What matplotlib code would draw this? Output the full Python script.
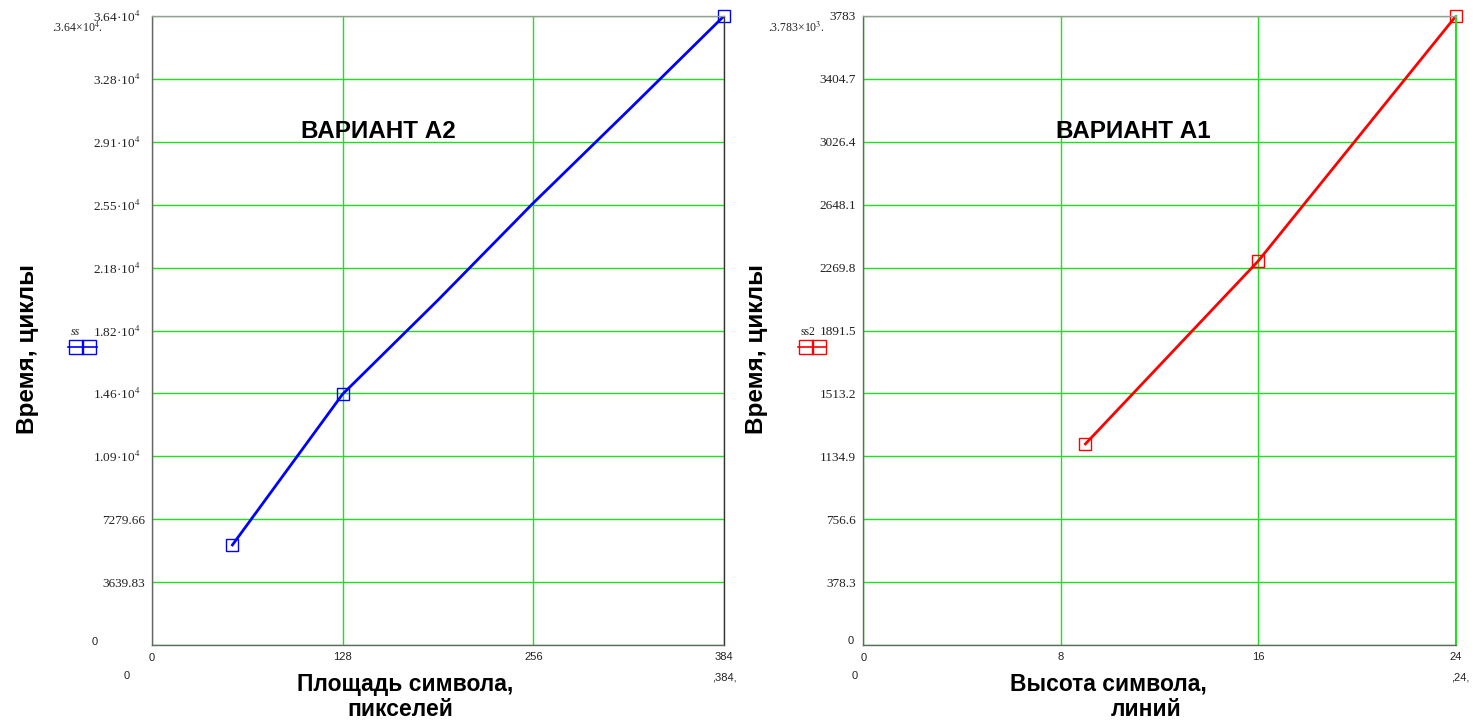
import matplotlib.pyplot as plt
from matplotlib.lines import Line2D

plt.rcParams['font.family'] = ['Liberation Sans', 'DejaVu Sans']
plt.rcParams['mathtext.fontset'] = 'stix'

# Variant A2: symbol area (pixels) -> time (cycles)
area_x = [54, 128, 192, 256, 320, 384]
area_time = [5790, 14520, 19960, 25580, 30960, 36398]
area_mark_x = [54, 128, 384]
area_mark_time = [5790, 14520, 36398]
area_ymax = 36398.3
area_xticks = [0, 128, 256, 384]
area_ylabels = ["", "3639.83", "7279.66", "1.09·10$^{4}$  ", "1.46·10$^{4}$  ",
                "1.82·10$^{4}$  ", "2.18·10$^{4}$  ", "2.55·10$^{4}$  ",
                "2.91·10$^{4}$  ", "3.28·10$^{4}$  ", "3.64·10$^{4}$  "]

# Variant A1: symbol height (lines) -> time (cycles)
height_x = [9, 16, 24]
height_time = [1209, 2310, 3783]
height_ymax = 3783
height_xticks = [0, 8, 16, 24]
height_ylabels = ["", "378.3", "756.6", "1134.9", "1513.2", "1891.5",
                  "2269.8", "2648.1", "3026.4", "3404.7", "3783"]

fig = plt.figure(figsize=(14.81, 7.24), dpi=100)
W, H = 1481, 724
GREEN = '#1ee01e'


def px(x, y):
    return x / W, 1 - y / H


def setup(ax, xmax, ymax, xticks, ylabels):
    ax.set_xlim(0, xmax)
    ax.set_ylim(0, ymax)
    ax.set_xticks(xticks)
    ax.set_xticklabels(["" if t == 0 else str(t) for t in xticks])
    ax.set_yticks([i * ymax / 10 for i in range(11)])
    ax.set_yticklabels(ylabels)
    ax.tick_params(length=0, colors='#222222')
    ax.tick_params(axis='x', labelsize=8, pad=5)
    ax.tick_params(axis='y', labelsize=9.5, pad=5)
    for lab in ax.get_yticklabels():
        lab.set_family('Liberation Serif')
    ax.grid(True, color=GREEN, lw=1)
    ax.spines['left'].set_color('#666666')
    ax.spines['bottom'].set_color('#666666')
    ax.spines['top'].set_color('#9a9a9a')
    ax.spines['right'].set_color('#333333')
    for s in ax.spines.values():
        s.set_linewidth(1)


ax1 = fig.add_axes([152 / W, 1 - 645 / H, 572 / W, 629 / H])
ax1.plot(area_x, area_time, color='#0000ff', lw=2)
ax1.plot(area_mark_x, area_mark_time, ls='none', marker='s', ms=8, mfc='none',
         mec='#0000ff', mew=1, clip_on=False)
setup(ax1, 384, area_ymax, area_xticks, area_ylabels)

ax2 = fig.add_axes([863 / W, 1 - 645 / H, 593 / W, 629 / H])
ax2.plot(height_x, height_time, color='#ff0000', lw=2)
ax2.plot(height_x, height_time, ls='none', marker='s', ms=8, mfc='none',
         mec='#ff0000', mew=1, clip_on=False)
setup(ax2, 24, height_ymax, height_xticks, height_ylabels)
ax2.spines['right'].set_color(GREEN)
ax2.spines['right'].set_linewidth(1.5)

# titles and axis labels
big = dict(fontweight='bold', color='black')
fig.text(*px(378, 131), "ВАРИАНТ А2", ha='center', va='center', fontsize=17.5, **big)
fig.text(*px(1133, 131), "ВАРИАНТ А1", ha='center', va='center', fontsize=17.5, **big)
fig.text(*px(28, 349), "Время, циклы", ha='center', va='center', rotation=90,
         fontsize=17.5, **big)
fig.text(*px(757, 349), "Время, циклы", ha='center', va='center', rotation=90,
         fontsize=17.5, **big)
fig.text(*px(405, 684), "Площадь символа,", ha='center', va='center', fontsize=16.5, **big)
fig.text(*px(400, 709), "пикселей", ha='center', va='center', fontsize=16.5, **big)
fig.text(*px(1108, 684), "Высота символа,", ha='center', va='center', fontsize=16.5, **big)
fig.text(*px(1146, 709), "линий", ha='center', va='center', fontsize=16.5, **big)

# Mathcad-style limit fields and trace legends
small = dict(fontsize=8, color='#222222')
serif = dict(fontsize=8.5, color='#222222', family='Liberation Serif')
fig.text(*px(95, 642), "0", ha='center', va='center', **small)
fig.text(*px(152, 658), "0", ha='center', va='center', **small)
fig.text(*px(127, 676), "0", ha='center', va='center', **small)
fig.text(*px(724, 678), ",384,", ha='center', va='center', **small)
fig.text(*px(77, 28), ".3.64×10$^{4}$.", ha='center', va='center', **serif)
fig.text(*px(75, 332), "ss", ha='center', va='center', style='italic', **serif)
fig.add_artist(Line2D([px(68, 0)[0], px(97, 0)[0]], [px(0, 347)[1]] * 2, color='#0000ff',
                      lw=1.2, transform=fig.transFigure))
fig.add_artist(Line2D([px(75.5, 0)[0], px(88.5, 0)[0]], [px(0, 347)[1]] * 2, ls='none',
                      marker='s', ms=9.5, mfc='none', mec='#0000ff', mew=1,
                      transform=fig.transFigure))

fig.text(*px(851, 641), "0", ha='center', va='center', **small)
fig.text(*px(864, 658), "0", ha='center', va='center', **small)
fig.text(*px(855, 676), "0", ha='center', va='center', **small)
fig.text(*px(1460, 678), ",24,", ha='center', va='center', **small)
fig.text(*px(796, 28), ".3.783×10$^{3}$.", ha='center', va='center', **serif)
fig.text(*px(808, 332), "ss2", ha='center', va='center', **serif)
fig.add_artist(Line2D([px(798, 0)[0], px(826, 0)[0]], [px(0, 347)[1]] * 2, color='#ff0000',
                      lw=1.2, transform=fig.transFigure))
fig.add_artist(Line2D([px(805.5, 0)[0], px(818.5, 0)[0]], [px(0, 347)[1]] * 2, ls='none',
                      marker='s', ms=9.5, mfc='none', mec='#ff0000', mew=1,
                      transform=fig.transFigure))

fig.savefig("out.png", dpi=100)
